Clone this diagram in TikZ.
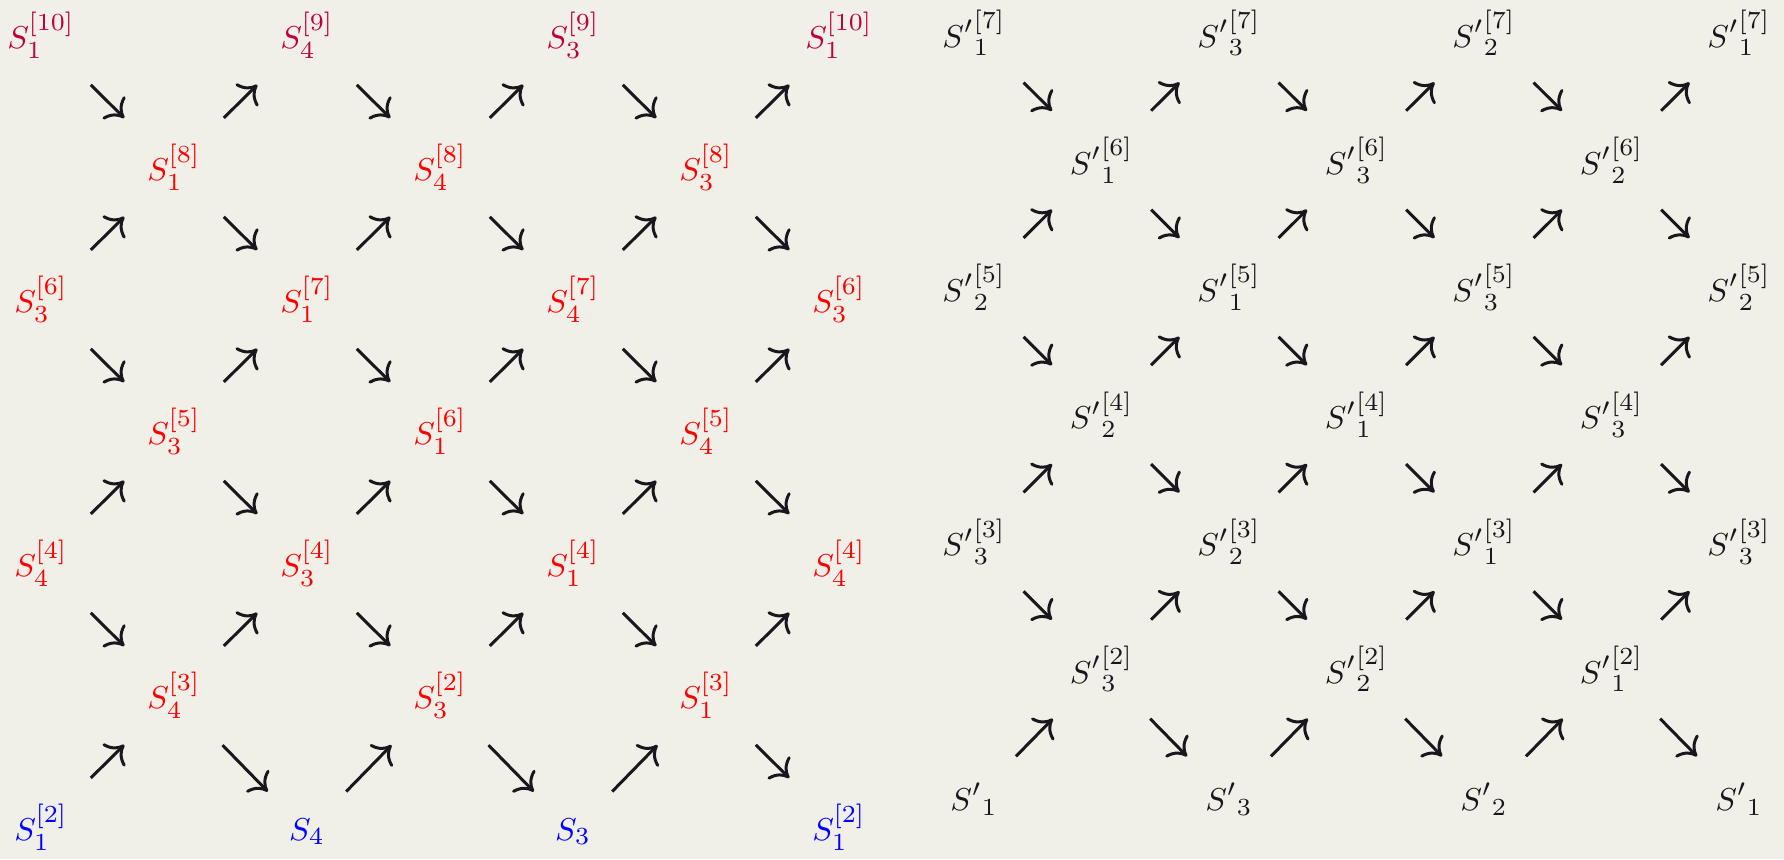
\documentclass[tikz,border=0pt]{standalone}
\usepackage{amsmath}
\usepackage{tikz}
\usetikzlibrary{arrows.meta}
\definecolor{paper}{RGB}{240,239,232}
\definecolor{ink}{RGB}{25,22,28}
\definecolor{toprow}{RGB}{191,0,64}

\begin{document}
\begin{tikzpicture}[
    lbl/.style={anchor=base, inner sep=1pt, font=\fontsize{9.5}{11}\selectfont},
    arr/.style={-{To[length=4.5pt,width=9pt]}, line width=0.85pt, ink, shorten <=9pt, shorten >=9pt}
]
% page 17.84cm x 8.59cm (1px = 0.01cm)
\fill[paper] (0,0) rectangle (17.84,8.59);
\useasboundingbox (0,0) rectangle (17.84,8.59);

% Left lattice: columns 1.33cm apart, baselines 1.32cm apart
\def\lx{0.41} \def\ly{8.11}
\foreach \r/\c/\clr/\txt in {
  0/0/toprow/S_1^{[10]}, 0/2/toprow/S_4^{[9]}, 0/4/toprow/S_3^{[9]}, 0/6/toprow/S_1^{[10]},
  1/1/red/S_1^{[8]}, 1/3/red/S_4^{[8]}, 1/5/red/S_3^{[8]},
  2/0/red/S_3^{[6]}, 2/2/red/S_1^{[7]}, 2/4/red/S_4^{[7]}, 2/6/red/S_3^{[6]},
  3/1/red/S_3^{[5]}, 3/3/red/S_1^{[6]}, 3/5/red/S_4^{[5]},
  4/0/red/S_4^{[4]}, 4/2/red/S_3^{[4]}, 4/4/red/S_1^{[4]}, 4/6/red/S_4^{[4]},
  5/1/red/S_4^{[3]}, 5/3/red/S_3^{[2]}, 5/5/red/S_1^{[3]},
  6/0/blue/S_1^{[2]}, 6/2/blue/S_4, 6/4/blue/S_3, 6/6/blue/S_1^{[2]}} {
  \node[lbl, text=\clr] (l\r\c) at ({\lx+1.33*\c},{\ly-1.32*\r}) {$\txt$};
}

% Right lattice: columns 1.275cm apart, baselines 1.272cm apart
\def\rx{9.74} \def\ry{8.12}
\foreach \r/\c/\txt in {
  0/0/{S'}_1^{[7]}, 0/2/{S'}_3^{[7]}, 0/4/{S'}_2^{[7]}, 0/6/{S'}_1^{[7]},
  1/1/{S'}_1^{[6]}, 1/3/{S'}_3^{[6]}, 1/5/{S'}_2^{[6]},
  2/0/{S'}_2^{[5]}, 2/2/{S'}_1^{[5]}, 2/4/{S'}_3^{[5]}, 2/6/{S'}_2^{[5]},
  3/1/{S'}_2^{[4]}, 3/3/{S'}_1^{[4]}, 3/5/{S'}_3^{[4]},
  4/0/{S'}_3^{[3]}, 4/2/{S'}_2^{[3]}, 4/4/{S'}_1^{[3]}, 4/6/{S'}_3^{[3]},
  5/1/{S'}_3^{[2]}, 5/3/{S'}_2^{[2]}, 5/5/{S'}_1^{[2]},
  6/0/{S'}_1, 6/2/{S'}_3, 6/4/{S'}_2, 6/6/{S'}_1} {
  \node[lbl, text=ink] (r\r\c) at ({\rx+1.275*\c},{\ry-1.272*\r}) {$\txt$};
}

% Arrows, always left to right (up or down)
\foreach \g in {l,r} {
  \foreach \r in {0,...,5} {
    \foreach \c in {0,...,5} {
      \pgfmathtruncatemacro\rr{\r+1}
      \pgfmathtruncatemacro\cc{\c+1}
      \ifodd\numexpr\r+\c\relax
        \draw[arr] (\g\rr\c) -- (\g\r\cc);
      \else
        \draw[arr] (\g\r\c) -- (\g\rr\cc);
      \fi
    }
  }
}
\end{tikzpicture}
\end{document}
